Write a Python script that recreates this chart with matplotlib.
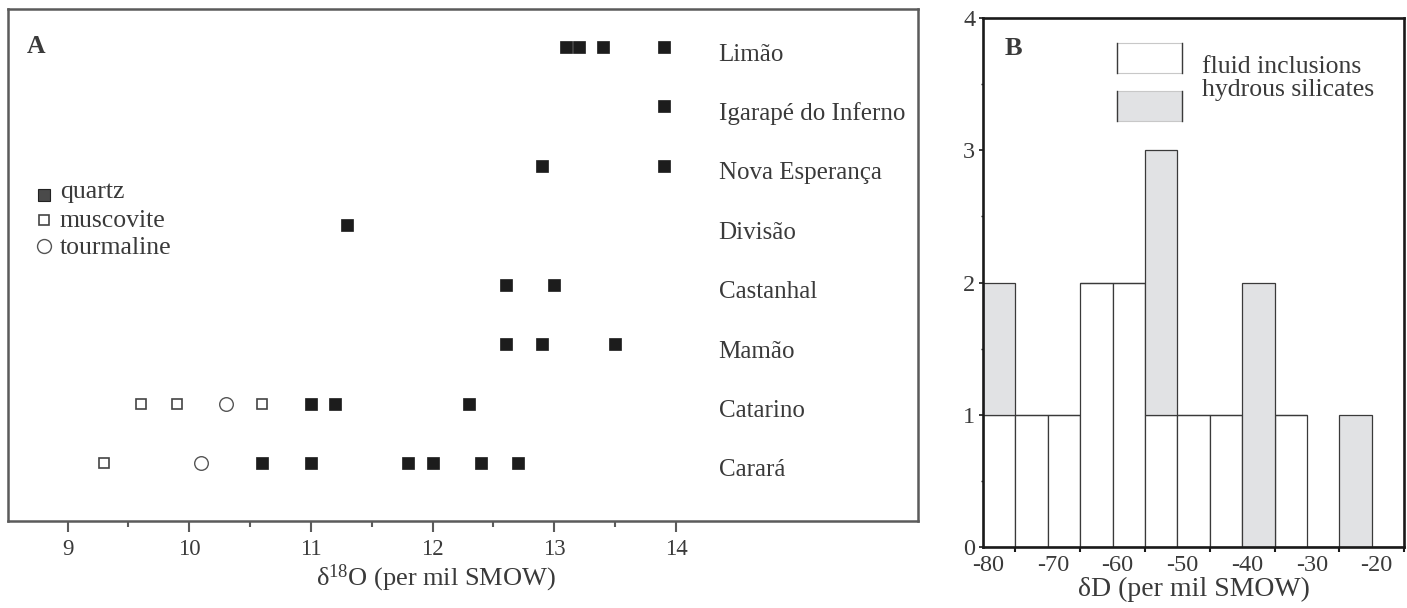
import numpy as np
import matplotlib
matplotlib.use('Agg')
import matplotlib.pyplot as plt
import matplotlib.transforms as mtransforms
from matplotlib.patches import Rectangle

plt.rcParams['font.family'] = ['Liberation Serif', 'DejaVu Serif']
plt.rcParams['mathtext.default'] = 'regular'
plt.rcParams['axes.unicode_minus'] = False

# --- panel A: d18O by deposit ---
sites = ['Limão', 'Igarapé do Inferno', 'Nova Esperança', 'Divisão',
         'Castanhal', 'Mamão', 'Catarino', 'Carará']
quartz = [[13.1, 13.2, 13.4, 13.9], [13.9], [12.9, 13.9], [11.3],
          [12.6, 13.0], [12.6, 12.9, 13.5], [11.0, 11.2, 12.3],
          [10.6, 11.0, 11.8, 12.0, 12.4, 12.7]]
muscovite = [[], [], [], [], [], [], [9.6, 9.9, 10.6], [9.3]]
tourmaline = [[], [], [], [], [], [], [10.3], [10.1]]

# --- panel B: dD histogram (5 per mil bins) ---
bin_left = [-80, -75, -70, -65, -60, -55, -50, -45, -40, -35, -30, -25, -20]
fluid_incl = [1, 1, 1, 2, 2, 1, 1, 1, 0, 1, 0, 0, 0]
hydrous_sil = [1, 0, 0, 0, 0, 2, 0, 0, 2, 0, 0, 1, 0]

txt = '#3a3a3a'
frame = '#5b5b5b'

fig = plt.figure(figsize=(14.07, 6.08), dpi=100)

axA = fig.add_axes([0.0057, 0.1431, 0.6468, 0.8421])
n = len(sites)
for i, name in enumerate(sites):
    y = n - 1 - i
    axA.plot(quartz[i], [y] * len(quartz[i]), 's', ms=8.6, color='#1c1c1c',
             mec='#1c1c1c', mew=0.5, ls='none')
    axA.plot(muscovite[i], [y] * len(muscovite[i]), 's', ms=7.6, mfc='white',
             mec='#444444', mew=1.2, ls='none')
    axA.plot(tourmaline[i], [y] * len(tourmaline[i]), 'o', ms=9.8, mfc='white',
             mec='#555555', mew=1.0, ls='none')
    axA.text(14.35, y - 0.227, name, fontsize=18, color=txt, va='baseline', ha='left')

axA.set_xlim(8.51, 15.99)
axA.set_ylim(-0.976, 7.64)
axA.set_xticks([9, 10, 11, 12, 13, 14])
axA.set_xticks([9.5, 10.5, 11.5, 12.5, 13.5], minor=True)
axA.set_yticks([])
axA.tick_params(axis='x', which='major', length=8, width=1.5, color=frame,
                labelsize=16.5, labelcolor=txt, pad=5)
axA.tick_params(axis='x', which='minor', length=4, width=1.5, color=frame)
for s in axA.spines.values():
    s.set_color(frame)
    s.set_linewidth(1.8)
axA.text(0.47, -0.112, r'δ$^{18}$O (per mil SMOW)', transform=axA.transAxes,
         fontsize=19, color=txt, ha='center', va='center')
axA.text(0.021, 0.926, 'A', transform=axA.transAxes, fontsize=18.5,
         fontweight='bold', color=txt, ha='left', va='center')

# key for panel A
key_x, key_tx = 0.039, 0.057
axA.plot([key_x], [0.637], 's', ms=8.0, mfc='#4a4a4a', mec='#222222', mew=0.8,
         transform=axA.transAxes, clip_on=False)
axA.plot([key_x], [0.588], 's', ms=7.6, mfc='white', mec='#444444', mew=1.2,
         transform=axA.transAxes, clip_on=False)
axA.plot([key_x], [0.537], 'o', ms=10, mfc='white', mec='#555555', mew=1.0,
         transform=axA.transAxes, clip_on=False)
for yy, lab in zip([0.63, 0.575, 0.521], ['quartz', 'muscovite', 'tourmaline']):
    axA.text(key_tx, yy, lab, transform=axA.transAxes, fontsize=18.5,
             color=txt, va='baseline', ha='left')

# --- panel B ---
axB = fig.add_axes([0.6987, 0.1003, 0.2992, 0.8701])
edge = '#3a3a3a'
axB.bar(bin_left, fluid_incl, width=5, align='edge', color='white',
        edgecolor=edge, linewidth=0.9)
axB.bar(bin_left, hydrous_sil, width=5, align='edge', bottom=fluid_incl,
        color='#e1e2e4', edgecolor=edge, linewidth=0.9)

axB.set_xlim(-80, -15)
axB.set_ylim(0, 4)
axB.set_xticks([-80, -70, -60, -50, -40, -30, -20])
axB.set_xticks([-75, -65, -55, -45, -35, -25, -15], minor=True)
axB.set_yticks([0, 1, 2, 3, 4])
axB.set_yticks([0.5, 1.5, 2.5, 3.5], minor=True)
axB.tick_params(axis='x', which='major', length=0, labelsize=17.5,
                labelcolor=txt, pad=6)
axB.tick_params(axis='x', which='minor', length=3.5, width=1.5, color='#1a1a1a')
axB.tick_params(axis='y', which='major', length=3, width=1.2, color='#1a1a1a',
                labelsize=17.5, labelcolor=txt, pad=2.5)
axB.tick_params(axis='y', which='minor', length=1.5, width=1.0, color='#1a1a1a')
# x labels sit a little right of their values
shift = mtransforms.ScaledTranslation(5 / 100, 0, fig.dpi_scale_trans)
for lab in axB.get_xticklabels():
    lab.set_transform(lab.get_transform() + shift)
for s in axB.spines.values():
    s.set_color('#1a1a1a')
    s.set_linewidth(1.9)
axB.set_xlabel('δD (per mil SMOW)', fontsize=20, color=txt, labelpad=0)
axB.text(0.052, 0.943, 'B', transform=axB.transAxes, fontsize=19,
         fontweight='bold', color=txt, ha='left', va='center')

# key for panel B
for yb, fc in [(0.896, 'white'), (0.805, '#e1e2e4')]:
    axB.add_patch(Rectangle((0.318, yb), 0.154, 0.0567, transform=axB.transAxes,
                            facecolor=fc, edgecolor='#c8c8c8', linewidth=0.8,
                            clip_on=False))
    axB.plot([0.318, 0.318], [yb, yb + 0.0567], color=edge, lw=1.0,
             transform=axB.transAxes)
    axB.plot([0.472, 0.472], [yb, yb + 0.0567], color=edge, lw=1.0,
             transform=axB.transAxes)
axB.text(0.52, 0.896, 'fluid inclusions', transform=axB.transAxes,
         fontsize=18.5, color=txt, va='baseline')
axB.text(0.52, 0.852, 'hydrous silicates', transform=axB.transAxes,
         fontsize=18.5, color=txt, va='baseline')

fig.savefig('out.png', dpi=100, facecolor='white')
